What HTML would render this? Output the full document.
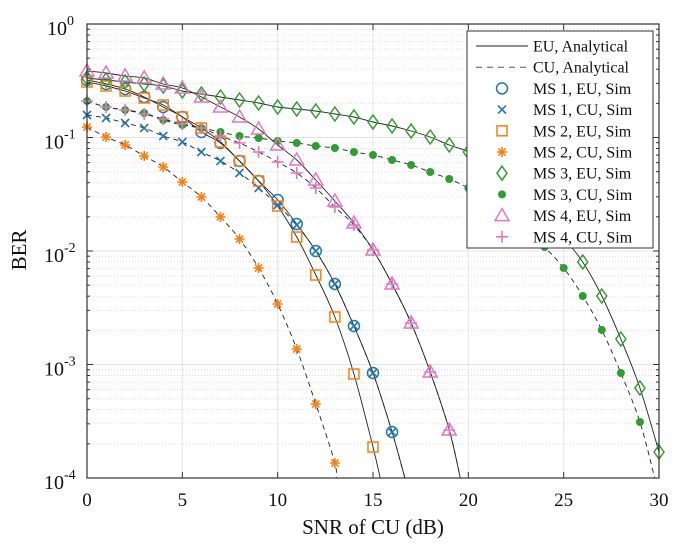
<!DOCTYPE html>
<html><head><meta charset="utf-8"><style>
body{margin:0;background:#fff}
svg text{font-family:"Liberation Serif",serif;fill:#111}
</style></head><body>
<svg id="s" width="685" height="550" xmlns="http://www.w3.org/2000/svg"></svg>
<script>
const L=87,R=659,T=24,B=478,D=(B-T)/4;
const X=x=>L+(R-L)*x/30;
let s='';
for(let d=0;d<4;d++){for(let m=2;m<=9;m++){const y=T+D*(d+1)-D*Math.log10(m);s+=`<line x1="${L}" x2="${R}" y1="${y}" y2="${y}" stroke="#ddd" stroke-dasharray="1,2"/>`;}}
for(let d=1;d<4;d++){const y=T+D*d;s+=`<line x1="${L}" x2="${R}" y1="${y}" y2="${y}" stroke="#e3e3e3"/>`;}
for(let x=5;x<30;x+=5){s+=`<line x1="${X(x)}" x2="${X(x)}" y1="${T}" y2="${B}" stroke="#e3e3e3"/>`;}
function path(pts){let p=`M${pts[0][0]},${pts[0][1]}`;for(let i=0;i<pts.length-1;i++){const p0=pts[Math.max(0,i-1)],p1=pts[i],p2=pts[i+1],p3=pts[Math.min(pts.length-1,i+2)];
p+=` C${p1[0]+(p2[0]-p0[0])/6},${p1[1]+(p2[1]-p0[1])/6} ${p2[0]-(p3[0]-p1[0])/6},${p2[1]-(p3[1]-p1[1])/6} ${p2[0]},${p2[1]}`;}return p;}
const S=[
{c:'#1f77b4',m:'o',cu:0,y:[80,84,89,97,107,117,132,143,161,181,200,224,251,284,326,373,432],end:16.7},
{c:'#1f77b4',m:'x',cu:1,y:[115,118,123,128,136,142,152,161,173,188,205,225,251,284,326,373,432],end:16.7,nocurve:1},
{c:'#ff7f0e',m:'s',cu:0,y:[82,86,91,98,105,117,128,142,161,181,206,237,275,317,374,447],end:15.4},
{c:'#ff7f0e',m:'*',cu:1,y:[127,137,145,156,167,182,197,217,239,268,304,349,404,463],end:13.05},
{c:'#2ca02c',m:'d',cu:0,y:[78,80,82,84,86,91,94,97,100,103,107,109,111,114,117,122,126,131,137,145,152,165,180,198,217,238,262,296,339,388,452],end:30.4},
{c:'#2ca02c',m:'.',cu:1,y:[101,107,110,113,120,125,128,132,136,138,141,143,146,148,152,155,160,165,172,179,188,200,213,229,247,268,296,330,373,422],end:29.8},
{c:'#e377c2',m:'^',cu:0,y:[71,73,76,78,84,88,97,107,117,129,145,160,180,201,223,250,284,323,372,430],end:19.6},
{c:'#e377c2',m:'+',cu:1,y:[101,107,110,114,119,124,128,136,143,152,162,173,188,207,225,250,284,323,372,430],end:19.6,nocurve:1}];
s+=`<clipPath id="c"><rect x="${L}" y="${T}" width="${R-L}" height="${B-T}"/></clipPath><g clip-path="url(#c)" fill="none" stroke="#222" stroke-width="0.9">`;
S.forEach((o,i)=>{let pts=o.y.map((y,k)=>[X(k),y]);pts.push([X(o.end),B+2]);
 if(o.nocurve)return;s+=`<path d="${path(pts)}" ${o.cu?'stroke-dasharray="5,4"':''}/>`;});
[1,7].forEach(i=>{const o=S[i];let pts=o.y.map((y,k)=>[X(k),y]);pts.push([X(o.end),B+2]);s+=`<path d="${path(pts)}" stroke-dasharray="5,4"/>`;});
s+='</g>';
function mk(t,x,y,c){switch(t){
case 'o':return `<circle cx="${x}" cy="${y}" r="5.5" fill="none" stroke="${c}" stroke-width="1.5"/>`;
case 'x':return `<path d="M${x-4},${y-4}L${x+4},${y+4}M${x-4},${y+4}L${x+4},${y-4}" stroke="${c}" stroke-width="1.6"/>`;
case 's':return `<rect x="${x-5}" y="${y-5}" width="10" height="10" fill="none" stroke="${c}" stroke-width="1.5"/>`;
case '*':return `<path d="M${x-5},${y}H${x+5}M${x},${y-5}V${y+5}M${x-3.6},${y-3.6}L${x+3.6},${y+3.6}M${x-3.6},${y+3.6}L${x+3.6},${y-3.6}" stroke="${c}" stroke-width="1.6"/>`;
case 'd':return `<path d="M${x},${y-7}L${x+5},${y}L${x},${y+7}L${x-5},${y}Z" fill="none" stroke="${c}" stroke-width="1.5"/>`;
case '.':return `<circle cx="${x}" cy="${y}" r="4" fill="${c}"/>`;
case '^':return `<path d="M${x},${y-7}L${x+7},${y+5}L${x-7},${y+5}Z" fill="none" stroke="${c}" stroke-width="1.5"/>`;
case '+':return `<path d="M${x-6},${y}H${x+6}M${x},${y-6}V${y+6}" stroke="${c}" stroke-width="1.6"/>`;}}
S.forEach(o=>o.y.forEach((y,k)=>{s+=mk(o.m,X(k),y,o.c);}));
s+=`<rect x="${L}" y="${T}" width="${R-L}" height="${B-T}" fill="none" stroke="#333" stroke-width="1.2"/>`;
for(let x=0;x<=30;x+=5){s+=`<line x1="${X(x)}" x2="${X(x)}" y1="${B}" y2="${B-6}" stroke="#333"/><line x1="${X(x)}" x2="${X(x)}" y1="${T}" y2="${T+6}" stroke="#333"/><text x="${X(x)}" y="${B+28}" font-size="19" text-anchor="middle">${x}</text>`;}
for(let d=0;d<=4;d++){const y=T+D*d;s+=`<line x1="${L}" x2="${L+6}" y1="${y}" y2="${y}" stroke="#333"/><line x1="${R}" x2="${R-6}" y1="${y}" y2="${y}" stroke="#333"/>`;
 s+=`<text x="${d?64:67}" y="${y+11}" font-size="20" text-anchor="end">10</text><text x="${d?64:67}" y="${y+1}" font-size="14">${d?'-'+d:'0'}</text>`;
 if(d<4)for(let m=2;m<=9;m++){const yy=T+D*(d+1)-D*Math.log10(m);s+=`<line x1="${L}" x2="${L+3}" y1="${yy}" y2="${yy}" stroke="#333"/><line x1="${R}" x2="${R-3}" y1="${yy}" y2="${yy}" stroke="#333"/>`;}}
s+=`<text x="373" y="534" font-size="21" text-anchor="middle">SNR of CU (dB)</text>`;
s+=`<text transform="translate(26,250) rotate(-90)" font-size="21" text-anchor="middle">BER</text>`;
s+=`<rect x="467" y="31" width="186" height="217" fill="#fff" stroke="#333"/>`;
const lg=[['EU, Analytical','-'],['CU, Analytical','--'],['MS 1, EU, Sim',0],['MS 1, CU, Sim',1],['MS 2, EU, Sim',2],['MS 2, CU, Sim',3],['MS 3, EU, Sim',4],['MS 3, CU, Sim',5],['MS 4, EU, Sim',6],['MS 4, CU, Sim',7]];
lg.forEach((e,i)=>{const y=46+i*21.2;
 if(e[1]==='-')s+=`<line x1="476" x2="528" y1="${y}" y2="${y}" stroke="#222"/>`;
 else if(e[1]==='--')s+=`<line x1="476" x2="528" y1="${y}" y2="${y}" stroke="#555" stroke-dasharray="6,5"/>`;
 else s+=mk(S[e[1]].m,502,y,S[e[1]].c);
 s+=`<text x="533" y="${y+5.5}" font-size="16">${e[0]}</text>`;});
document.getElementById('s').innerHTML=s;
</script>
</body></html>
